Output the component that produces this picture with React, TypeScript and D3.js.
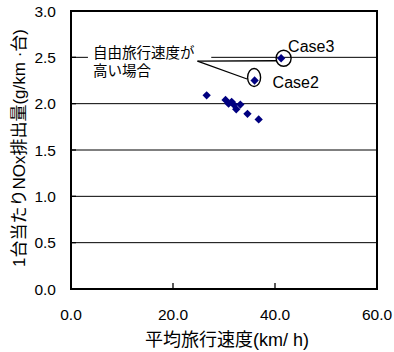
import React from "react";
import * as d3 from "d3";

const speeds = [26.6, 30.3, 30.9, 31.5, 31.9, 32.4, 33.2, 34.6, 36.8, 36.0, 41.2];
const emissions = [2.09, 2.04, 2.0, 2.02, 1.99, 1.94, 1.99, 1.89, 1.83, 2.25, 2.49];
const caseNames = ["Case2", "Case3"];
const caseSpeeds = [36.0, 41.2];
const caseEmissions = [2.25, 2.49];
const xTicks = [0, 20, 40, 60];
const yTicks = [0, 0.5, 1.0, 1.5, 2.0, 2.5, 3.0];
const noteLines = ["自由旅行速度が", "高い場合"];
const xTitle = "平均旅行速度(km/ h)";
const yTitle = "1台当たりNOx排出量(g/km ·台)";

const W = 394;
const H = 352;
const m = { left: 71, right: 17, top: 11, bottom: 63 };
const FONT = "'Liberation Sans', Arial, 'Noto Sans CJK JP', sans-serif";

export default function App() {
  const x = d3.scaleLinear().domain([0, 60]).range([m.left, W - m.right]);
  const y = d3.scaleLinear().domain([0, 3]).range([H - m.bottom, m.top]);
  const diamond = d3.symbol().type(d3.symbolDiamond2).size(44)();

  const c2x = x(caseSpeeds[0]);
  const c2y = y(caseEmissions[0]);
  const c3x = x(caseSpeeds[1]);
  const c3y = y(caseEmissions[1]);
  const apexX = x(24.8);
  const apexY = y(2.46);
  const noteX = x(4.3);

  return (
    <svg
      width={W}
      height={H}
      style={{ position: "absolute", left: 0, top: 0, background: "#fff" }}
      fontFamily={FONT}
    >
      <rect x={0} y={0} width={W} height={H} fill="#fff" />
      {yTicks.slice(1, -1).map((t) => (
        <line key={"g" + t} x1={x(0)} x2={x(60)} y1={y(t)} y2={y(t)} stroke="#000" strokeWidth={1} />
      ))}
      {xTicks.slice(1, -1).map((t) => (
        <line key={"xt" + t} x1={x(t)} x2={x(t)} y1={y(0)} y2={y(0) - 6} stroke="#000" strokeWidth={1.3} />
      ))}
      {yTicks.map((t) => (
        <line key={"yt" + t} x1={x(0)} x2={x(0) + 5} y1={y(t)} y2={y(t)} stroke="#000" strokeWidth={1.3} />
      ))}
      <rect x={noteX - 5} y={y(2.73)} width={x(27.5) - noteX + 5} height={y(2.1) - y(2.73) - 12} fill="#fff" />
      <rect x={x(0)} y={y(3)} width={x(60) - x(0)} height={y(0) - y(3)} fill="none" stroke="#000" strokeWidth={2} />

      {speeds.map((s, i) => (
        <path key={"p" + i} d={diamond} transform={`translate(${x(s)},${y(emissions[i])})`} fill="#000080" />
      ))}

      <ellipse cx={c3x + 2.5} cy={c3y} rx={7.5} ry={8} fill="none" stroke="#000" strokeWidth={1.4} />
      <ellipse cx={c2x - 0.5} cy={c2y - 3} rx={6.5} ry={9} fill="none" stroke="#000" strokeWidth={1.4} />
      <line x1={apexX} y1={apexY} x2={c3x - 5} y2={c3y + 2.5} stroke="#000" strokeWidth={1.3} />
      <line x1={apexX} y1={apexY} x2={c2x - 7.5} y2={c2y - 1.5} stroke="#000" strokeWidth={1.3} />

      <text x={c3x + 7} y={c3y - 6} fontSize={16}>{caseNames[1]}</text>
      <text x={c2x + 18} y={c2y + 7} fontSize={16}>{caseNames[0]}</text>
      {noteLines.map((l, i) => (
        <text key={l} x={noteX} y={y(2.5) + 1 + i * 18} fontSize={14.5}>{l}</text>
      ))}

      {yTicks.map((t) => (
        <text key={"yl" + t} x={x(0) - 15} y={y(t)} dy="0.36em" textAnchor="end" fontSize={15.5}>
          {t.toFixed(1)}
        </text>
      ))}
      {xTicks.map((t) => (
        <text key={"xl" + t} x={x(t)} y={y(0) + 31} textAnchor="middle" fontSize={15.5}>
          {t.toFixed(1)}
        </text>
      ))}
      <text x={(x(0) + x(60)) / 2 + 3} y={H - 6} textAnchor="middle" fontSize={18}>
        {xTitle}
      </text>
      <text
        transform={`translate(25,${(y(0) + y(3)) / 2 - 2}) rotate(-90)`}
        textAnchor="middle"
        fontSize={17}
      >
        {yTitle}
      </text>
    </svg>
  );
}
